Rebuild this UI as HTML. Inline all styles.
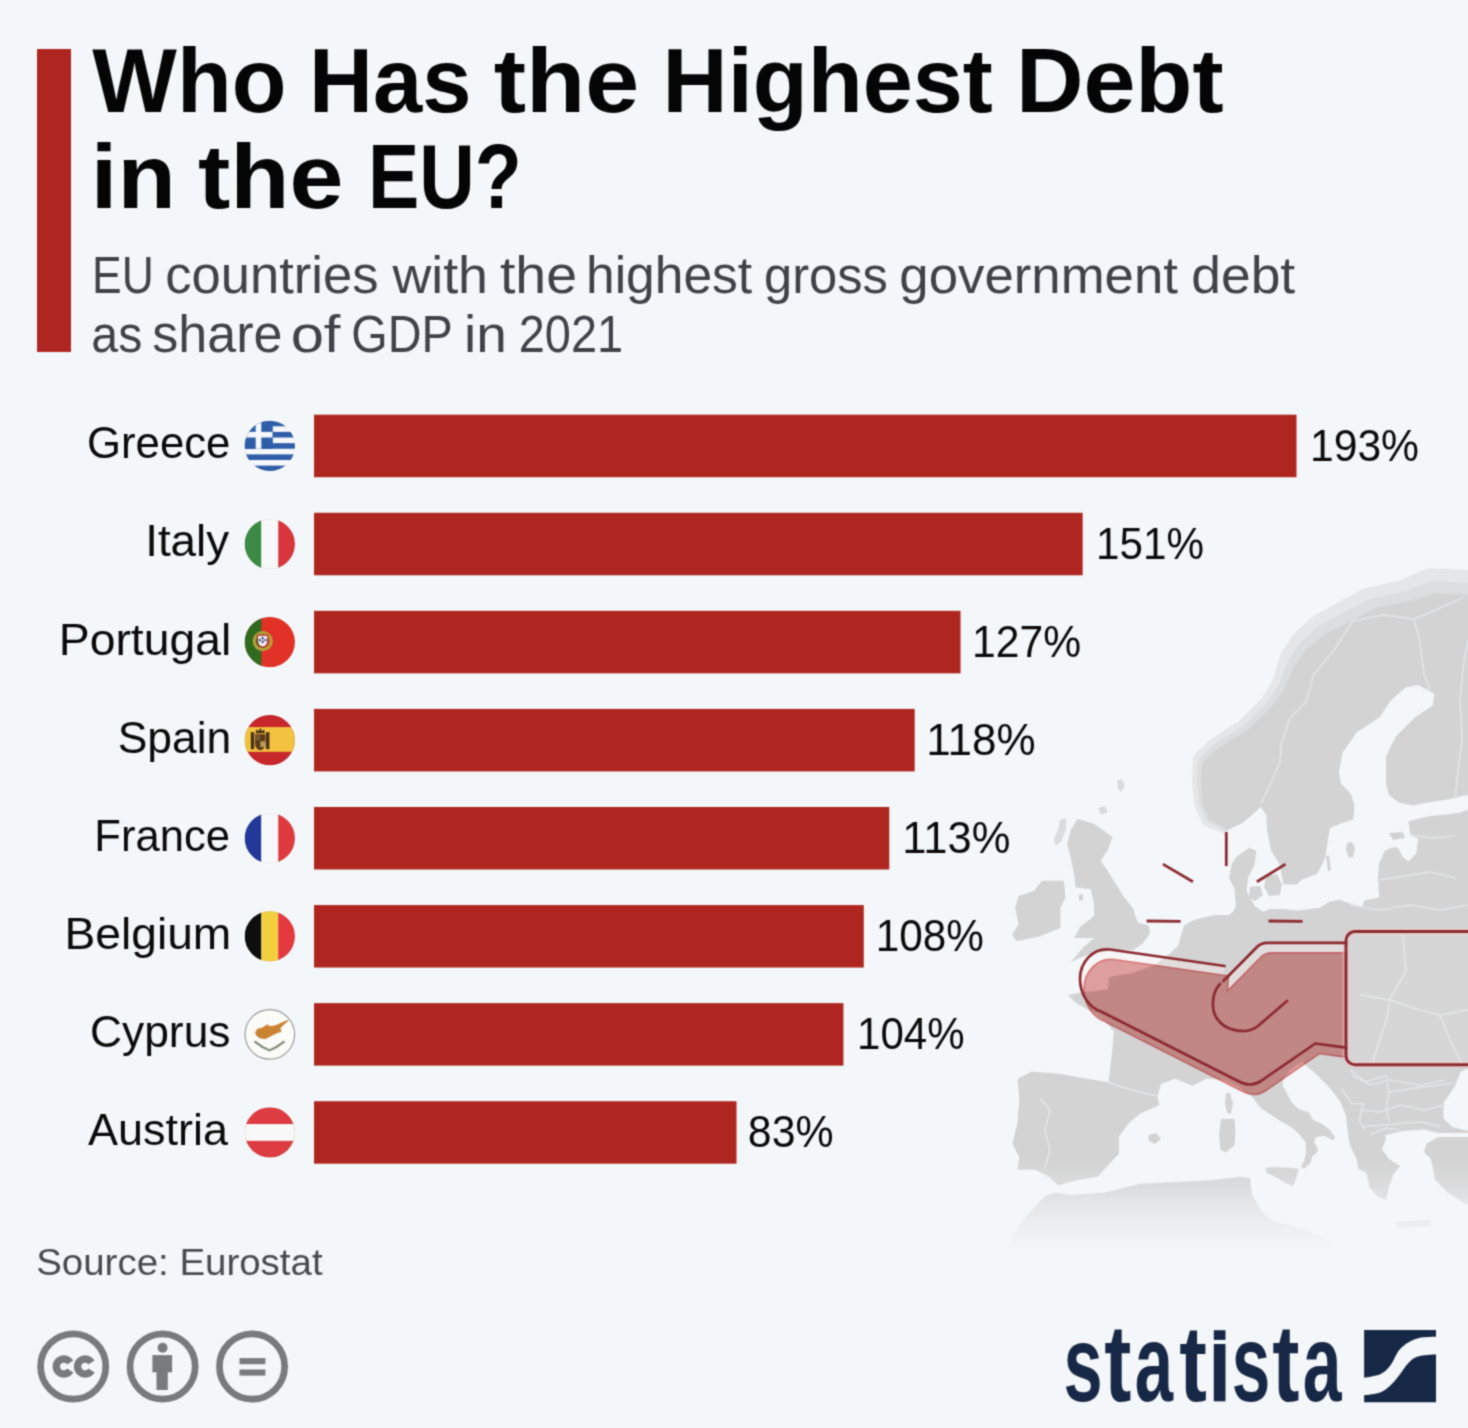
<!DOCTYPE html>
<html><head><meta charset="utf-8"><title>Who Has the Highest Debt in the EU?</title>
<style>html,body{margin:0;padding:0;background:#f4f7fa;}svg{display:block}text{font-family:"Liberation Sans",sans-serif}</style>
</head><body>
<svg width="1468" height="1428" viewBox="0 0 1468 1428" font-family="Liberation Sans, sans-serif"><defs><filter id="soft" x="0" y="0" width="1468" height="1428" filterUnits="userSpaceOnUse" color-interpolation-filters="sRGB"><feConvolveMatrix order="3" kernelMatrix="0.04 0.12 0.04 0.12 0.36 0.12 0.04 0.12 0.04" divisor="1" edgeMode="duplicate"/></filter></defs><rect width="1468" height="1428" fill="#f4f7fa"/><g filter="url(#soft)"><rect width="1468" height="1428" fill="#f4f7fa"/>
<defs><linearGradient id="mfade" gradientUnits="userSpaceOnUse" x1="0" y1="1160" x2="0" y2="1250"><stop offset="0" stop-color="#fff" stop-opacity="1"/><stop offset="0.28" stop-color="#fff" stop-opacity="0.78"/><stop offset="0.5" stop-color="#fff" stop-opacity="0.48"/><stop offset="0.72" stop-color="#fff" stop-opacity="0.24"/><stop offset="1" stop-color="#fff" stop-opacity="0"/></linearGradient><mask id="mmask" maskUnits="userSpaceOnUse" x="990" y="540" width="480" height="720"><rect x="990" y="540" width="480" height="720" fill="url(#mfade)"/></mask></defs>
<g mask="url(#mmask)">
<polygon points="1226.0,834.0 1204.0,826.0 1194.0,805.0 1192.0,780.0 1193.0,756.0 1209.0,740.5 1239.0,721.0 1262.0,698.0 1273.0,680.0 1280.0,655.0 1293.0,634.7 1312.0,616.8 1331.0,606.6 1363.0,588.7 1402.0,579.7 1427.0,568.0 1468.0,570.0 1468.0,660.0 1300.0,720.0 1235.0,810.0" fill="#e5e6e8" />
<polygon points="1226.0,831.0 1207.0,822.0 1199.0,804.0 1197.0,780.0 1198.0,760.0 1213.0,745.0 1243.0,726.0 1267.0,703.0 1279.0,685.0 1287.0,662.0 1300.0,643.0 1319.0,626.0 1339.0,615.0 1370.0,599.0 1406.0,591.0 1432.0,581.0 1468.0,583.0 1468.0,660.0 1300.0,720.0 1235.0,810.0" fill="#dcdddf" />
<polygon points="1226.0,829.0 1209.0,819.0 1202.0,803.0 1201.0,780.0 1202.0,763.0 1217.0,749.0 1247.0,730.0 1271.0,708.0 1284.0,690.0 1293.0,668.0 1306.0,650.0 1325.0,634.0 1346.0,624.0 1376.0,608.0 1410.0,601.0 1436.0,593.0 1468.0,595.0 1468.0,794.7 1447.6,799.6 1428.0,802.5 1413.3,805.5 1398.6,802.5 1388.8,794.7 1386.0,783.5 1386.0,756.2 1395.8,736.6 1415.4,717.0 1433.0,705.2 1434.0,693.4 1418.0,685.0 1405.6,687.5 1390.0,701.3 1380.0,717.0 1356.6,732.6 1342.8,752.3 1338.9,771.8 1340.9,783.5 1350.7,793.4 1354.5,804.5 1353.5,819.2 1339.8,824.1 1330.0,828.0 1328.0,840.0 1325.2,858.1 1317.3,873.8 1301.6,879.7 1297.0,884.5 1283.5,884.5 1279.4,864.0 1271.0,850.4 1267.0,830.0 1266.3,815.0 1260.4,807.0 1256.5,811.0 1242.8,822.8 1227.0,830.6" fill="#d3d3d3" />
<polygon points="1077.3,818.7 1094.0,823.7 1112.6,837.0 1107.6,850.6 1100.8,860.7 1107.6,870.8 1116.0,884.2 1124.4,897.6 1132.8,907.7 1137.7,922.6 1148.6,925.4 1150.0,933.5 1143.2,943.0 1133.6,950.0 1117.6,950.0 1094.1,952.4 1079.0,958.2 1071.0,962.0 1084.0,946.4 1094.1,938.0 1074.0,938.0 1080.7,926.2 1094.1,916.0 1094.0,904.4 1090.8,889.2 1075.6,887.6 1074.0,874.0 1070.6,857.3 1067.2,843.9 1070.6,830.4" fill="#d3d3d3" />
<polygon points="1042.0,880.8 1063.9,880.8 1065.5,897.6 1060.5,907.7 1060.5,927.9 1040.3,936.3 1016.8,941.3 1011.8,934.6 1018.5,924.5 1015.1,907.7 1018.5,896.0 1033.6,890.9" fill="#d3d3d3" />
<polygon points="1068.0,995.0 1083.0,992.0 1096.0,991.0 1108.0,989.0 1109.0,977.0 1120.0,975.0 1131.0,973.6 1155.0,965.0 1168.0,955.0 1178.0,946.0 1184.0,925.4 1193.6,920.0 1204.5,917.2 1215.4,915.1 1229.0,915.1 1233.0,911.7 1235.8,906.3 1234.4,888.6 1229.0,877.7 1231.7,864.0 1235.8,857.2 1249.4,847.7 1256.2,850.4 1254.9,864.0 1248.0,877.7 1246.7,891.3 1254.9,906.3 1263.0,911.7 1269.9,909.0 1283.5,909.0 1297.1,910.4 1310.7,909.0 1320.0,907.7 1330.0,901.6 1339.8,899.6 1349.6,903.5 1362.4,906.5 1364.3,900.6 1379.0,897.6 1378.0,878.0 1379.0,863.3 1384.9,850.6 1394.7,846.7 1398.6,848.6 1402.5,856.5 1408.4,861.4 1416.3,853.5 1418.2,838.8 1410.4,834.9 1408.4,821.2 1428.0,816.3 1447.6,814.3 1460.4,812.4 1468.0,809.4 1468.0,1068.0 1460.4,1072.2 1454.8,1086.2 1443.6,1103.0 1443.6,1118.4 1452.0,1126.8 1468.0,1131.0 1468.0,1133.0 1438.0,1133.0 1424.0,1129.6 1403.0,1131.0 1384.8,1135.2 1386.2,1138.0 1382.0,1149.2 1389.0,1159.0 1400.2,1166.0 1393.2,1174.5 1389.0,1187.0 1386.2,1199.7 1377.8,1196.9 1369.4,1187.0 1366.6,1173.0 1358.2,1168.8 1356.8,1159.0 1352.0,1150.0 1349.6,1144.0 1347.5,1130.0 1346.0,1116.0 1340.5,1102.0 1330.0,1088.0 1316.0,1074.0 1302.0,1062.0 1296.0,1066.0 1290.0,1070.0 1283.0,1080.0 1283.0,1086.0 1291.5,1102.0 1298.5,1109.0 1309.0,1112.5 1312.5,1119.5 1323.0,1124.4 1330.0,1130.0 1335.0,1137.0 1333.5,1140.5 1324.0,1136.0 1316.3,1137.0 1314.0,1142.0 1317.0,1147.0 1318.0,1152.0 1312.4,1156.1 1310.4,1162.9 1304.5,1168.8 1300.6,1166.9 1304.5,1160.0 1306.0,1152.0 1305.5,1142.0 1298.5,1133.5 1291.5,1127.2 1281.0,1121.6 1270.5,1114.6 1260.0,1107.6 1252.5,1097.3 1240.0,1088.0 1225.0,1080.0 1206.6,1078.8 1192.6,1085.8 1175.0,1078.8 1161.0,1084.0 1157.5,1096.3 1159.3,1105.0 1140.0,1113.8 1129.5,1122.5 1119.0,1136.5 1119.0,1154.0 1108.5,1164.6 1098.0,1176.8 1077.0,1180.3 1057.8,1185.6 1049.0,1176.8 1035.0,1169.8 1017.5,1169.8 1019.3,1157.5 1012.3,1143.5 1017.5,1122.5 1019.3,1098.0 1017.5,1078.8 1031.5,1071.8 1057.8,1073.5 1087.5,1078.8 1108.5,1082.3 1112.0,1052.5 1113.8,1031.5 1105.0,1021.0 1092.0,1012.0 1076.0,1003.0" fill="#d3d3d3" />
<polygon points="1468.0,1137.0 1438.0,1137.0 1426.8,1143.6 1424.0,1152.0 1431.0,1159.0 1435.2,1180.0 1449.2,1194.0 1468.0,1205.3" fill="#d3d3d3" />
<polygon points="1005.0,1250.0 1017.5,1227.6 1030.0,1212.0 1045.0,1196.0 1055.0,1192.6 1070.0,1195.0 1105.0,1192.6 1140.0,1183.8 1175.0,1182.0 1210.0,1180.3 1240.0,1176.8 1250.0,1178.0 1252.0,1195.0 1262.0,1212.0 1275.0,1222.0 1300.0,1228.0 1330.0,1240.0 1330.0,1260.0 1005.0,1260.0" fill="#d3d3d3" />
<polygon points="1265.3,1167.8 1277.0,1166.9 1288.8,1167.8 1298.6,1168.8 1296.7,1177.6 1292.7,1186.5 1284.9,1182.5 1273.1,1175.7 1266.3,1172.7" fill="#d3d3d3" />
<polygon points="1221.0,1119.0 1234.6,1119.0 1235.5,1132.0 1234.6,1145.3 1226.0,1152.3 1220.6,1150.0 1219.0,1135.0" fill="#d3d3d3" />
<polygon points="1226.0,1093.0 1230.0,1093.0 1233.0,1103.0 1231.0,1114.0 1227.0,1113.0 1225.0,1103.0" fill="#d3d3d3" />
<polygon points="1347.0,843.0 1352.0,842.0 1355.0,848.0 1353.0,857.0 1349.0,858.0 1346.0,850.0" fill="#d3d3d3" />
<polygon points="1326.0,856.0 1329.0,855.0 1331.0,870.0 1328.0,872.0" fill="#d3d3d3" />
<polygon points="1389.0,833.0 1403.0,832.0 1405.0,838.0 1393.0,840.0" fill="#d3d3d3" />
<polygon points="1266.0,876.0 1277.0,874.0 1282.0,884.0 1280.0,895.0 1269.0,896.0 1264.0,887.0" fill="#d3d3d3" />
<polygon points="1250.0,887.0 1260.0,886.0 1263.0,895.0 1255.0,901.0 1249.0,897.0" fill="#d3d3d3" />
<polygon points="1148.0,1135.0 1156.0,1133.0 1161.0,1139.0 1155.0,1144.0 1149.0,1141.0" fill="#d3d3d3" />
<polygon points="1395.0,1222.0 1430.0,1220.0 1432.0,1226.0 1398.0,1228.0" fill="#d3d3d3" />
<polygon points="1079.0,895.0 1083.0,894.0 1083.0,900.0 1079.0,901.0" fill="#d3d3d3" />
<polygon points="1117.0,781.0 1122.0,779.0 1125.0,786.0 1121.0,792.0 1118.0,789.0" fill="#dadbdd" />
<polygon points="1098.0,808.0 1105.0,806.0 1108.0,812.0 1101.0,815.0" fill="#dadbdd" />
<polygon points="1060.0,820.0 1066.0,818.0 1066.0,830.0 1061.0,842.0 1055.0,846.0 1054.0,838.0 1058.0,830.0" fill="#dadbdd" />
<polyline points="1261,804 1270,785 1279.6,763 1281.6,743 1289.8,718.5 1306,702 1314,674 1334.5,649.4 1352.8,621 1383.3,614.9 1413.8,619 1434,611 1464.5,596.6" stroke="#e2e4e7" stroke-width="1.6" fill="none" stroke-linejoin="round"/>
<polyline points="1413.8,619 1419.8,641.3 1424,674 1430,690" stroke="#e2e4e7" stroke-width="1.6" fill="none" stroke-linejoin="round"/>
<polyline points="1455,800 1458,770 1462,740 1460,700 1464,660 1468,640" stroke="#e2e4e7" stroke-width="1.6" fill="none" stroke-linejoin="round"/>
<polyline points="1410,835 1430,838 1455,836" stroke="#e2e4e7" stroke-width="1.6" fill="none" stroke-linejoin="round"/>
<polyline points="1380,880 1405,876 1430,872 1455,878" stroke="#e2e4e7" stroke-width="1.6" fill="none" stroke-linejoin="round"/>
<polyline points="1350,905 1380,910 1410,905 1440,910 1468,905" stroke="#e2e4e7" stroke-width="1.6" fill="none" stroke-linejoin="round"/>
<polyline points="1040,1098 1050,1110 1045,1130 1050,1150 1045,1168" stroke="#e2e4e7" stroke-width="1.6" fill="none" stroke-linejoin="round"/>
<polyline points="1108,1082 1125,1088 1140,1092 1157,1096" stroke="#e2e4e7" stroke-width="1.6" fill="none" stroke-linejoin="round"/>
<polyline points="1350,1070 1370,1085 1390,1080 1420,1085 1445,1080" stroke="#e2e4e7" stroke-width="1.6" fill="none" stroke-linejoin="round"/>
<polyline points="1360,1110 1380,1112 1400,1105 1425,1110 1445,1105" stroke="#e2e4e7" stroke-width="1.6" fill="none" stroke-linejoin="round"/>
<polyline points="1370,1135 1385,1128 1400,1130" stroke="#e2e4e7" stroke-width="1.6" fill="none" stroke-linejoin="round"/>
<polyline points="1386.3,1075.6 1388.8,1092.3 1386.3,1107.6 1388.8,1121.7" stroke="#e2e4e7" stroke-width="1.6" fill="none" stroke-linejoin="round"/>
<polyline points="1388.8,1092.3 1420.8,1087.1 1452.9,1083.3" stroke="#e2e4e7" stroke-width="1.6" fill="none" stroke-linejoin="round"/>
<polyline points="1363.2,1126.8 1395.2,1124.3 1420.8,1121.7 1440,1126.8" stroke="#e2e4e7" stroke-width="1.6" fill="none" stroke-linejoin="round"/>
<polyline points="1341.5,1088.4 1351.7,1103.8 1363.2,1103.8 1359.4,1120.4 1364.5,1129.4" stroke="#e2e4e7" stroke-width="1.6" fill="none" stroke-linejoin="round"/>
<polyline points="1351.7,1075.6 1365,1082 1386.3,1075.6" stroke="#e2e4e7" stroke-width="1.6" fill="none" stroke-linejoin="round"/>
<polyline points="1403,935 1406,971 1390,999 1387,1018 1378,1045 1372,1064" stroke="#e2e4e7" stroke-width="1.6" fill="none" stroke-linejoin="round"/>
<polyline points="1360,995 1390,1000 1420,1010 1440,1015 1468,1010" stroke="#e2e4e7" stroke-width="1.6" fill="none" stroke-linejoin="round"/>
<polyline points="1440,1015 1450,1040 1462,1064" stroke="#e2e4e7" stroke-width="1.6" fill="none" stroke-linejoin="round"/>
</g><defs><clipPath id="handclip"><rect x="1000" y="900" width="345.5" height="220"/></clipPath><mask id="bandmask" maskUnits="userSpaceOnUse" x="1000" y="900" width="468" height="220"><path d="M1224.5,966 L1110,949.5 C1093,947.5 1080,962 1080,979 C1080,995 1090,1008 1101,1011.5 L1238,1081 Q1250,1088 1261,1081 L1315.3,1043.5 L1346,1047.7 L1346,942.9 L1267,942.9 Q1261,943 1257,947 L1223.4,981 Z" fill="#fff"/><path d="M1224.5,966 L1110,949.5 C1093,947.5 1080,962 1080,979 C1080,995 1090,1008 1101,1011.5 L1238,1081 Q1250,1088 1261,1081 L1315.3,1043.5 L1346,1047.7 L1346,942.9 L1267,942.9 Q1261,943 1257,947 L1223.4,981 Z" transform="translate(4,10)" fill="#000"/></mask></defs>
<rect x="1000" y="900" width="468" height="220" fill="#fff0f0" fill-opacity="0.35" mask="url(#bandmask)"/>
<g clip-path="url(#handclip)" style="mix-blend-mode:multiply"><path d="M1224.5,966 L1110,949.5 C1093,947.5 1080,962 1080,979 C1080,995 1090,1008 1101,1011.5 L1238,1081 Q1250,1088 1261,1081 L1315.3,1043.5 L1346,1047.7 L1346,942.9 L1267,942.9 Q1261,943 1257,947 L1223.4,981 Z" transform="translate(4,10)" fill="#e8a3a1" stroke="#e07a78" stroke-width="1.6"/></g>
<rect x="1346" y="931.5" width="140" height="133.2" rx="9" fill="#ffffff" fill-opacity="0.08" stroke="#f2c9c9" stroke-width="7" stroke-opacity="0.5"/>
<rect x="1346" y="931.5" width="140" height="133.2" rx="9" fill="none" stroke="#8c2a30" stroke-width="3"/>
<path d="M1224.5,966 L1110,949.5 C1093,947.5 1080,962 1080,979 C1080,995 1090,1008 1101,1011.5 L1238,1081 Q1250,1088 1261,1081 L1315.3,1043.5 L1346,1047.7" fill="none" stroke="#8c2a30" stroke-width="2.7" stroke-linecap="round" stroke-linejoin="round"/>
<path d="M1223.4,981 L1257,947 Q1261,943 1267,942.9 L1346,942.9" fill="none" stroke="#8c2a30" stroke-width="2.7" stroke-linecap="round" stroke-linejoin="round"/>
<path d="M1220,984 C1212,992 1211,1008 1216,1017 C1222,1027 1233,1031 1244,1031 C1250,1031 1254,1029 1258,1026 L1287,1001" fill="none" stroke="#8c2a30" stroke-width="2.7" stroke-linecap="round" stroke-linejoin="round"/>
<line x1="1226.3" y1="832" x2="1226.3" y2="866.1" stroke="#8c2c32" stroke-width="2.8" stroke-linecap="butt"/>
<line x1="1162.9" y1="864.1" x2="1192.9" y2="881.8" stroke="#8c2c32" stroke-width="2.8" stroke-linecap="butt"/>
<line x1="1285.5" y1="864.1" x2="1256.9" y2="881.8" stroke="#8c2c32" stroke-width="2.8" stroke-linecap="butt"/>
<line x1="1146.6" y1="921" x2="1180.6" y2="921.3" stroke="#8c2c32" stroke-width="2.8" stroke-linecap="butt"/>
<line x1="1268.5" y1="921" x2="1302.6" y2="921.3" stroke="#8c2c32" stroke-width="2.8" stroke-linecap="butt"/>
<rect x="37" y="49" width="34" height="303" fill="#af2620"/>
<text transform="translate(92.11,292.8) scale(0.8714,1)" font-size="51.02" font-weight="400" fill="#3f4348" >EU</text>
<text transform="translate(165.24,292.8) scale(1.03,1)" font-size="51.02" font-weight="400" fill="#3f4348" >countries</text>
<text transform="translate(392.4,292.8) scale(1.054,1)" font-size="51.02" font-weight="400" fill="#3f4348" >with</text>
<text transform="translate(499.91,292.8) scale(1.0868,1)" font-size="51.02" font-weight="400" fill="#3f4348" >the</text>
<text transform="translate(585.96,292.8) scale(1.0106,1)" font-size="51.02" font-weight="400" fill="#3f4348" >highest</text>
<text transform="translate(764.01,292.8) scale(0.9934,1)" font-size="51.02" font-weight="400" fill="#3f4348" >gross</text>
<text transform="translate(899.33,292.8) scale(1.0345,1)" font-size="51.02" font-weight="400" fill="#3f4348" >government</text>
<text transform="translate(1191.21,292.8) scale(1.0474,1)" font-size="51.02" font-weight="400" fill="#3f4348" >debt</text>
<text transform="translate(91.31,352.0) scale(0.946,1)" font-size="51.02" font-weight="400" fill="#3f4348" >as</text>
<text transform="translate(152.26,352.0) scale(1.0203,1)" font-size="51.02" font-weight="400" fill="#3f4348" >share</text>
<text transform="translate(290.66,352.0) scale(1.17,1)" font-size="51.02" font-weight="400" fill="#3f4348" >of</text>
<text transform="translate(351.25,352.0) scale(0.9171,1)" font-size="51.02" font-weight="400" fill="#3f4348" >GDP</text>
<text transform="translate(463.96,352.0) scale(1.0788,1)" font-size="51.02" font-weight="400" fill="#3f4348" >in</text>
<text transform="translate(518.74,352.0) scale(0.9194,1)" font-size="51.02" font-weight="400" fill="#3f4348" >2021</text>
<text transform="translate(92.3,111.8) scale(0.9948,1)" font-size="90.12" font-weight="700" fill="#050505" >Who</text>
<text transform="translate(309.11,111.8) scale(0.9821,1)" font-size="90.12" font-weight="700" fill="#050505" >Has</text>
<text transform="translate(493.72,111.8) scale(1.0763,1)" font-size="90.12" font-weight="700" fill="#050505" >the</text>
<text transform="translate(662.6,111.8) scale(0.9994,1)" font-size="90.12" font-weight="700" fill="#050505" >Highest</text>
<text transform="translate(1015.88,111.8) scale(1.0373,1)" font-size="90.12" font-weight="700" fill="#050505" >Debt</text>
<text transform="translate(90.84,208.3) scale(1.0603,1)" font-size="90.12" font-weight="700" fill="#050505" >in</text>
<text transform="translate(198.02,208.3) scale(1.0763,1)" font-size="90.12" font-weight="700" fill="#050505" >the</text>
<text transform="translate(367.88,208.3) scale(0.8533,1)" font-size="90.12" font-weight="700" fill="#050505" >EU?</text>
<rect x="314.0" y="414.70" width="982.50" height="62.5" fill="#af2620"/>
<text transform="translate(87.03,458.4) scale(0.9831,1)" font-size="44.48" font-weight="400" fill="#0a0a0a" >Greece</text>
<text transform="translate(1309.92,460.8) scale(0.9596,1)" font-size="44.48" font-weight="400" fill="#0a0a0a" >193%</text>
<rect x="314.0" y="512.77" width="768.69" height="62.5" fill="#af2620"/>
<text transform="translate(145.18,556.47) scale(1.0299,1)" font-size="44.48" font-weight="400" fill="#0a0a0a" >Italy</text>
<text transform="translate(1096.05,558.87) scale(0.9495,1)" font-size="44.48" font-weight="400" fill="#0a0a0a" >151%</text>
<rect x="314.0" y="610.84" width="646.52" height="62.5" fill="#af2620"/>
<text transform="translate(58.73,654.54) scale(1.0421,1)" font-size="44.48" font-weight="400" fill="#0a0a0a" >Portugal</text>
<text transform="translate(972.12,656.94) scale(0.9587,1)" font-size="44.48" font-weight="400" fill="#0a0a0a" >127%</text>
<rect x="314.0" y="708.91" width="600.70" height="62.5" fill="#af2620"/>
<text transform="translate(117.7,752.6099999999999) scale(0.9991,1)" font-size="44.48" font-weight="400" fill="#0a0a0a" >Spain</text>
<text transform="translate(926.33,755.01) scale(0.9896,1)" font-size="44.48" font-weight="400" fill="#0a0a0a" >118%</text>
<rect x="314.0" y="806.98" width="575.25" height="62.5" fill="#af2620"/>
<text transform="translate(94.28,850.68) scale(0.9805,1)" font-size="44.48" font-weight="400" fill="#0a0a0a" >France</text>
<text transform="translate(902.27,853.0799999999999) scale(0.9783,1)" font-size="44.48" font-weight="400" fill="#0a0a0a" >113%</text>
<rect x="314.0" y="905.05" width="549.79" height="62.5" fill="#af2620"/>
<text transform="translate(64.44,948.75) scale(1.039,1)" font-size="44.48" font-weight="400" fill="#0a0a0a" >Belgium</text>
<text transform="translate(875.65,951.15) scale(0.9514,1)" font-size="44.48" font-weight="400" fill="#0a0a0a" >108%</text>
<rect x="314.0" y="1003.12" width="529.43" height="62.5" fill="#af2620"/>
<text transform="translate(90.01,1046.82) scale(0.9971,1)" font-size="44.48" font-weight="400" fill="#0a0a0a" >Cyprus</text>
<text transform="translate(857.06,1049.22) scale(0.9459,1)" font-size="44.48" font-weight="400" fill="#0a0a0a" >104%</text>
<rect x="314.0" y="1101.19" width="422.53" height="62.5" fill="#af2620"/>
<text transform="translate(88.0,1144.8899999999999) scale(1.0115,1)" font-size="44.48" font-weight="400" fill="#0a0a0a" >Austria</text>
<text transform="translate(747.87,1147.29) scale(0.964,1)" font-size="44.48" font-weight="400" fill="#0a0a0a" >83%</text>
<defs>
<clipPath id="fc0"><circle cx="269.8" cy="445.95" r="25.3"/></clipPath>
<clipPath id="fc1"><circle cx="269.8" cy="544.02" r="25.3"/></clipPath>
<clipPath id="fc2"><circle cx="269.8" cy="642.09" r="25.3"/></clipPath>
<clipPath id="fc3"><circle cx="269.8" cy="740.16" r="25.3"/></clipPath>
<clipPath id="fc4"><circle cx="269.8" cy="838.23" r="25.3"/></clipPath>
<clipPath id="fc5"><circle cx="269.8" cy="936.30" r="25.3"/></clipPath>
<clipPath id="fc6"><circle cx="269.8" cy="1034.37" r="25.3"/></clipPath>
<clipPath id="fc7"><circle cx="269.8" cy="1132.44" r="25.3"/></clipPath>
</defs>
<g clip-path="url(#fc0)"><rect x="244.5" y="420.65" width="50.6" height="50.6" fill="#f5f8fc"/><rect x="244.5" y="420.65" width="50.6" height="5.62" fill="#2f5ea9"/><rect x="244.5" y="431.89" width="50.6" height="5.62" fill="#2f5ea9"/><rect x="244.5" y="443.14" width="50.6" height="5.62" fill="#2f5ea9"/><rect x="244.5" y="454.38" width="50.6" height="5.62" fill="#2f5ea9"/><rect x="244.5" y="465.63" width="50.6" height="5.62" fill="#2f5ea9"/><rect x="244.5" y="420.65" width="28.11" height="28.11" fill="#2f5ea9"/><rect x="244.5" y="420.65" width="28.0" height="28.11" fill="#2f5ea9"/><rect x="244.5" y="431.89" width="28.0" height="5.62" fill="#f5f8fc"/><rect x="255.69" y="420.65" width="5.62" height="28.11" fill="#f5f8fc"/></g>
<g clip-path="url(#fc1)"><rect x="244.5" y="518.72" width="16.87" height="50.6" fill="#3c8a45"/><rect x="261.37" y="518.72" width="16.87" height="50.6" fill="#f7f8f8"/><rect x="278.23" y="518.72" width="16.87" height="50.6" fill="#d8363c"/></g>
<g clip-path="url(#fc2)"><rect x="244.5" y="616.79" width="50.6" height="50.6" fill="#e23228"/><rect x="244.5" y="616.79" width="16.90" height="50.6" fill="#2f6a1f"/><circle cx="262.7" cy="641.09" r="8.5" fill="none" stroke="#b5a23a" stroke-width="3.2"/><path d="M257.5,635.09 h10.4 v6 a5.2,6 0 0 1 -10.4,0 z" fill="#f0eaea" stroke="#a8332a" stroke-width="1.2"/><rect x="261.6" y="637.09" width="2.2" height="2.2" fill="#3a4a8a"/><rect x="261.6" y="640.59" width="2.2" height="2.2" fill="#3a4a8a"/><rect x="258.8" y="639.09" width="2" height="2" fill="#3a4a8a"/><rect x="264.6" y="639.09" width="2" height="2" fill="#3a4a8a"/></g>
<g clip-path="url(#fc3)"><rect x="244.5" y="714.86" width="50.6" height="50.6" fill="#c7262b"/><rect x="244.5" y="727.06" width="50.6" height="24.8" fill="#f3c23f"/><rect x="250.8" y="732.16" width="3.4" height="17" fill="#4a3016"/><rect x="266" y="732.16" width="3.4" height="17" fill="#4a3016"/><path d="M255,734.16 h10.5 v9 q0,6 -5.25,7 q-5.25,-1 -5.25,-7 z" fill="#5a3a1a"/><rect x="260.3" y="741.16" width="5" height="6" fill="#b8975a"/><rect x="255.3" y="735.16" width="4.8" height="5" fill="#7a5a30"/><path d="M255.5,733.16 l1,-4 l2,2 l1.75,-3.5 l1.75,3.5 l2,-2 l1,4 z" fill="#4a3016"/></g>
<g clip-path="url(#fc4)"><rect x="244.5" y="812.9300000000001" width="16.87" height="50.6" fill="#22399a"/><rect x="261.37" y="812.9300000000001" width="16.87" height="50.6" fill="#f7f8fa"/><rect x="278.23" y="812.9300000000001" width="16.87" height="50.6" fill="#de3a40"/></g>
<g clip-path="url(#fc5)"><rect x="244.5" y="911.0" width="16.87" height="50.6" fill="#0e0e0e"/><rect x="261.37" y="911.0" width="16.87" height="50.6" fill="#f2cf3e"/><rect x="278.23" y="911.0" width="16.87" height="50.6" fill="#e3393f"/></g>
<g clip-path="url(#fc6)"><rect x="244.5" y="1009.0699999999999" width="50.6" height="50.6" fill="#fbfbf8"/><polygon points="255.5,1032.4 257.6,1029.0 261.8,1028.2 266.0,1025.7 267.7,1024.8 269.4,1026.5 273.6,1026.1 277.8,1024.8 282.0,1022.7 286.2,1021.0 288.3,1020.6 284.1,1024.0 279.9,1028.2 281.2,1031.6 277.8,1032.4 273.6,1034.5 269.4,1036.6 265.2,1038.7 260.2,1037.9 256.8,1035.8" fill="#c98332" stroke="#c98332" stroke-width="0.8" stroke-linejoin="round"/><path d="M254.5,1041.37 Q262,1047.37 269.5,1050.37 Q277,1047.37 284.5,1041.37" fill="none" stroke="#7d8a72" stroke-width="2.0"/></g>
<circle cx="269.8" cy="1034.37" r="24.8" fill="none" stroke="#9a9c9e" stroke-width="1.2"/>
<g clip-path="url(#fc7)"><rect x="244.5" y="1107.14" width="50.6" height="50.6" fill="#dd3c42"/><rect x="244.5" y="1124.01" width="50.6" height="16.87" fill="#f8f8f8"/></g>
<circle cx="269.8" cy="445.95" r="25.7" fill="none" stroke="#ffffff" stroke-opacity="0.7" stroke-width="1.2"/>
<circle cx="269.8" cy="445.95" r="25.0" fill="none" stroke="#000" stroke-opacity="0.10" stroke-width="0.7"/>
<circle cx="269.8" cy="544.02" r="25.7" fill="none" stroke="#ffffff" stroke-opacity="0.7" stroke-width="1.2"/>
<circle cx="269.8" cy="544.02" r="25.0" fill="none" stroke="#000" stroke-opacity="0.10" stroke-width="0.7"/>
<circle cx="269.8" cy="642.09" r="25.7" fill="none" stroke="#ffffff" stroke-opacity="0.7" stroke-width="1.2"/>
<circle cx="269.8" cy="642.09" r="25.0" fill="none" stroke="#000" stroke-opacity="0.10" stroke-width="0.7"/>
<circle cx="269.8" cy="740.16" r="25.7" fill="none" stroke="#ffffff" stroke-opacity="0.7" stroke-width="1.2"/>
<circle cx="269.8" cy="740.16" r="25.0" fill="none" stroke="#000" stroke-opacity="0.10" stroke-width="0.7"/>
<circle cx="269.8" cy="838.23" r="25.7" fill="none" stroke="#ffffff" stroke-opacity="0.7" stroke-width="1.2"/>
<circle cx="269.8" cy="838.23" r="25.0" fill="none" stroke="#000" stroke-opacity="0.10" stroke-width="0.7"/>
<circle cx="269.8" cy="936.30" r="25.7" fill="none" stroke="#ffffff" stroke-opacity="0.7" stroke-width="1.2"/>
<circle cx="269.8" cy="936.30" r="25.0" fill="none" stroke="#000" stroke-opacity="0.10" stroke-width="0.7"/>
<circle cx="269.8" cy="1132.44" r="25.7" fill="none" stroke="#ffffff" stroke-opacity="0.7" stroke-width="1.2"/>
<circle cx="269.8" cy="1132.44" r="25.0" fill="none" stroke="#000" stroke-opacity="0.10" stroke-width="0.7"/>
<text transform="translate(36.18,1275.2) scale(1.0586,1)" font-size="36.34" font-weight="400" fill="#474b50" >Source: Eurostat</text>
<circle cx="73.2" cy="1366.5" r="32.6" fill="none" stroke="#787b7e" stroke-width="6.7"/>
<path d="M70.16,1362.53 A7.5,7.5 0 1 0 70.16,1370.47" fill="none" stroke="#787b7e" stroke-width="7.4"/>
<path d="M91.46,1362.53 A7.5,7.5 0 1 0 91.46,1370.47" fill="none" stroke="#787b7e" stroke-width="7.4"/>
<circle cx="162.6" cy="1366.5" r="32.6" fill="none" stroke="#787b7e" stroke-width="6.7"/>
<circle cx="162.6" cy="1347.8" r="5.0" fill="#787b7e"/>
<rect x="152.4" y="1355.1" width="19.7" height="17.2" fill="#787b7e"/>
<rect x="156.5" y="1372" width="11.3" height="18" fill="#787b7e"/>
<circle cx="252.05" cy="1366.5" r="32.6" fill="none" stroke="#787b7e" stroke-width="6.7"/>
<rect x="239.5" y="1358.1" width="25.9" height="6.1" fill="#787b7e"/>
<rect x="239.5" y="1369.5" width="25.9" height="6.1" fill="#787b7e"/>
<text transform="translate(1063.51,1401.3) scale(0.6481,1)" font-size="108.5" font-weight="700" fill="#172846">s</text>
<text transform="translate(1104.25,1401.3) scale(0.7500,1)" font-size="108.5" font-weight="700" fill="#172846">t</text>
<text transform="translate(1134.70,1401.3) scale(0.6345,1)" font-size="108.5" font-weight="700" fill="#172846">a</text>
<text transform="translate(1179.24,1401.3) scale(0.7647,1)" font-size="108.5" font-weight="700" fill="#172846">t</text>
<text transform="translate(1231.65,1401.3) scale(0.6385,1)" font-size="108.5" font-weight="700" fill="#172846">s</text>
<text transform="translate(1272.25,1401.3) scale(0.7529,1)" font-size="108.5" font-weight="700" fill="#172846">t</text>
<text transform="translate(1302.77,1401.3) scale(0.6431,1)" font-size="108.5" font-weight="700" fill="#172846">a</text>
<rect x="1213.8" y="1330.2" width="11.7" height="9.7" fill="#172846"/>
<rect x="1213.8" y="1344" width="11.7" height="57.3" fill="#172846"/>
<path d="M1364.1,1330.1 H1436 V1336.7 C1433.53,1336.85 1425.67,1336.72 1421.20,1337.60 C1416.73,1338.48 1412.88,1339.90 1409.20,1342.00 C1405.52,1344.10 1402.25,1346.30 1399.10,1350.20 C1395.95,1354.10 1393.45,1361.40 1390.30,1365.40 C1387.15,1369.40 1384.57,1372.15 1380.20,1374.20 C1375.83,1376.25 1366.78,1377.12 1364.10,1377.70 Z" fill="#172846"/>
<path d="M1364.1,1402.2 H1436 V1354.3 C1433.00,1354.67 1422.57,1355.08 1418.00,1356.50 C1413.43,1357.92 1411.75,1359.65 1408.60,1362.80 C1405.45,1365.95 1402.15,1371.62 1399.10,1375.40 C1396.05,1379.18 1393.45,1382.65 1390.30,1385.50 C1387.15,1388.35 1384.57,1390.87 1380.20,1392.50 C1375.83,1394.13 1366.78,1394.83 1364.10,1395.30 Z" fill="#172846"/></g></svg>
</body></html>
